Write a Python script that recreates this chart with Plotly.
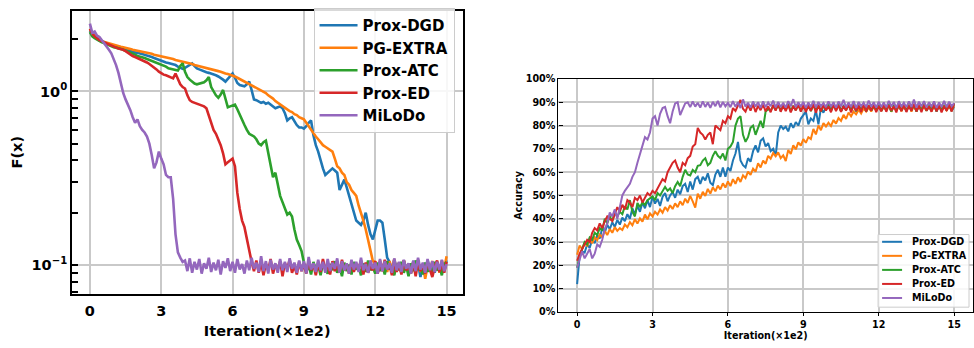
import numpy as np
import plotly.graph_objects as go

# iteration axis in units of 1e2 (one sample every 10 iterations)
iters = np.arange(0, 1501, 10) / 100.0

methods = ["Prox-DGD", "PG-EXTRA", "Prox-ATC", "Prox-ED", "MiLoDo"]
colors = ["#1f77b4", "#ff7f0e", "#2ca02c", "#d62728", "#9467bd"]

# objective value F(x)
loss_prox_dgd = [
    2.25, 2.12, 2.06, 2.01, 1.97, 1.95, 1.92, 1.90, 1.87, 1.84,
    1.82, 1.81, 1.79, 1.78, 1.76, 1.75, 1.73, 1.71, 1.70, 1.68,
    1.67, 1.66, 1.64, 1.63, 1.61, 1.60, 1.58, 1.56, 1.54, 1.52,
    1.50, 1.49, 1.47, 1.46, 1.45, 1.44, 1.42, 1.39, 1.37, 1.35,
    1.37, 1.40, 1.43, 1.45, 1.40, 1.36, 1.34, 1.32, 1.31, 1.29,
    1.28, 1.27, 1.26, 1.24, 1.22, 1.20, 1.17, 1.14, 1.18, 1.22,
    1.27, 1.20, 1.12, 1.09, 1.08, 1.07, 1.10, 1.14, 1.02, 0.90,
    0.89, 0.87, 0.86, 0.87, 0.85, 0.86, 0.84, 0.82, 0.80, 0.81,
    0.82, 0.80, 0.75, 0.68, 0.70, 0.71, 0.67, 0.64, 0.62, 0.62,
    0.61, 0.63, 0.66, 0.68, 0.56, 0.49, 0.45, 0.40, 0.36, 0.33,
    0.34, 0.35, 0.36, 0.35, 0.34, 0.27, 0.29, 0.31, 0.28, 0.25,
    0.22, 0.20, 0.18, 0.175, 0.17, 0.18, 0.20, 0.17, 0.15, 0.14,
    0.16, 0.18, 0.18, 0.175, 0.14, 0.11, 0.104, 0.092, 0.107, 0.095,
    0.103, 0.090, 0.106, 0.094, 0.101, 0.089, 0.105, 0.093, 0.102, 0.085,
    0.100, 0.091, 0.106, 0.094, 0.103, 0.090, 0.104, 0.092, 0.101, 0.096,
    0.106,
]
loss_pg_extra = [
    2.29, 2.16, 2.09, 2.03, 1.98, 1.95, 1.93, 1.91, 1.89, 1.87,
    1.85, 1.84, 1.83, 1.81, 1.80, 1.79, 1.77, 1.76, 1.74, 1.73,
    1.71, 1.70, 1.69, 1.68, 1.67, 1.66, 1.65, 1.63, 1.62, 1.61,
    1.60, 1.59, 1.58, 1.56, 1.55, 1.54, 1.52, 1.51, 1.49, 1.48,
    1.47, 1.46, 1.45, 1.44, 1.42, 1.41, 1.40, 1.38, 1.37, 1.36,
    1.35, 1.34, 1.33, 1.32, 1.31, 1.30, 1.28, 1.27, 1.26, 1.25,
    1.24, 1.22, 1.20, 1.18, 1.16, 1.14, 1.13, 1.11, 1.09, 1.07,
    1.05, 1.04, 1.02, 1.00, 0.98, 0.95, 0.93, 0.91, 0.88, 0.86,
    0.84, 0.82, 0.81, 0.79, 0.77, 0.76, 0.74, 0.73, 0.71, 0.70,
    0.69, 0.66, 0.63, 0.60, 0.57, 0.55, 0.53, 0.51, 0.49, 0.48,
    0.47, 0.46, 0.45, 0.41, 0.37, 0.36, 0.34, 0.33, 0.30, 0.29,
    0.27, 0.26, 0.25, 0.22, 0.20, 0.18, 0.16, 0.14, 0.12, 0.105,
    0.104, 0.093, 0.106, 0.095, 0.102, 0.091, 0.105, 0.094, 0.108, 0.092,
    0.103, 0.090, 0.106, 0.095, 0.101, 0.089, 0.104, 0.093, 0.107, 0.091,
    0.100, 0.083, 0.098, 0.092, 0.105, 0.094, 0.103, 0.090, 0.106, 0.095,
    0.112,
]
loss_prox_atc = [
    2.20, 2.08, 2.03, 1.99, 1.95, 1.92, 1.90, 1.87, 1.84, 1.82,
    1.80, 1.79, 1.78, 1.76, 1.74, 1.72, 1.70, 1.68, 1.66, 1.63,
    1.60, 1.59, 1.57, 1.56, 1.54, 1.52, 1.50, 1.48, 1.47, 1.45,
    1.43, 1.41, 1.39, 1.36, 1.35, 1.34, 1.33, 1.32, 1.40, 1.45,
    1.30, 1.21, 1.17, 1.14, 1.11, 1.10, 1.11, 1.12, 1.13, 1.16,
    1.21, 1.06, 1.00, 0.95, 0.92, 0.96, 1.02, 0.92, 0.81, 0.82,
    0.83, 0.84, 0.79, 0.73, 0.68, 0.64, 0.60, 0.57, 0.56, 0.55,
    0.53, 0.50, 0.49, 0.51, 0.52, 0.44, 0.36, 0.32, 0.34, 0.29,
    0.25, 0.23, 0.21, 0.195, 0.20, 0.19, 0.16, 0.14, 0.13, 0.12,
    0.103, 0.092, 0.099, 0.088, 0.104, 0.093, 0.100, 0.087, 0.102, 0.094,
    0.089, 0.101, 0.093, 0.105, 0.090, 0.098, 0.086, 0.103, 0.092, 0.100,
    0.088, 0.104, 0.094, 0.099, 0.087, 0.102, 0.091, 0.106, 0.093, 0.097,
    0.089, 0.103, 0.092, 0.100, 0.088, 0.105, 0.094, 0.098, 0.087, 0.101,
    0.093, 0.104, 0.090, 0.099, 0.086, 0.102, 0.092, 0.106, 0.094, 0.097,
    0.088, 0.103, 0.091, 0.100, 0.089, 0.104, 0.093, 0.099, 0.087, 0.101,
    0.104,
]
loss_prox_ed = [
    2.30, 2.15, 2.08, 2.02, 1.98, 1.95, 1.92, 1.89, 1.86, 1.83,
    1.81, 1.79, 1.77, 1.76, 1.74, 1.71, 1.67, 1.63, 1.60, 1.58,
    1.56, 1.54, 1.52, 1.50, 1.47, 1.44, 1.41, 1.38, 1.34, 1.30,
    1.27, 1.25, 1.24, 1.22, 1.20, 1.19, 1.27, 1.18, 1.10, 1.06,
    1.04, 0.95, 0.89, 0.87, 0.86, 0.85, 0.84, 0.83, 0.82, 0.80,
    0.72, 0.65, 0.60, 0.57, 0.53, 0.49, 0.44, 0.38, 0.39, 0.40,
    0.41, 0.37, 0.26, 0.21, 0.18, 0.165, 0.14, 0.12, 0.104, 0.092,
    0.106, 0.090, 0.103, 0.087, 0.101, 0.093, 0.108, 0.089, 0.100, 0.094,
    0.105, 0.086, 0.102, 0.095, 0.107, 0.090, 0.099, 0.088, 0.104, 0.092,
    0.101, 0.089, 0.106, 0.093, 0.100, 0.087, 0.103, 0.091, 0.108, 0.094,
    0.099, 0.088, 0.105, 0.092, 0.102, 0.090, 0.107, 0.093, 0.100, 0.089,
    0.104, 0.091, 0.101, 0.095, 0.106, 0.088, 0.103, 0.090, 0.099, 0.093,
    0.105, 0.089, 0.102, 0.092, 0.107, 0.094, 0.100, 0.087, 0.104, 0.091,
    0.101, 0.088, 0.106, 0.093, 0.099, 0.090, 0.103, 0.086, 0.105, 0.092,
    0.100, 0.089, 0.104, 0.094, 0.085, 0.097, 0.106, 0.091, 0.102, 0.090,
    0.104,
]
loss_milodo = [
    2.46, 2.18, 2.22, 2.10, 2.06, 1.98, 1.88, 1.82, 1.74, 1.66,
    1.55, 1.42, 1.28, 1.10, 0.98, 0.90, 0.84, 0.78, 0.71, 0.66,
    0.69, 0.63, 0.60, 0.58, 0.55, 0.50, 0.43, 0.36, 0.39, 0.45,
    0.41, 0.38, 0.33, 0.32, 0.32, 0.24, 0.15, 0.118, 0.110, 0.104,
    0.106, 0.092, 0.109, 0.090, 0.104, 0.094, 0.108, 0.089, 0.102, 0.095,
    0.110, 0.091, 0.103, 0.093, 0.107, 0.088, 0.105, 0.096, 0.109, 0.092,
    0.104, 0.090, 0.108, 0.094, 0.101, 0.089, 0.106, 0.093, 0.110, 0.095,
    0.103, 0.091, 0.112, 0.092, 0.105, 0.089, 0.107, 0.094, 0.102, 0.090,
    0.108, 0.093, 0.104, 0.091, 0.109, 0.095, 0.103, 0.090, 0.106, 0.092,
    0.105, 0.089, 0.111, 0.094, 0.102, 0.091, 0.107, 0.093, 0.104, 0.090,
    0.108, 0.092, 0.103, 0.095, 0.109, 0.090, 0.105, 0.093, 0.102, 0.089,
    0.107, 0.094, 0.104, 0.091, 0.110, 0.093, 0.101, 0.090, 0.106, 0.095,
    0.103, 0.089, 0.108, 0.092, 0.105, 0.094, 0.102, 0.090, 0.109, 0.093,
    0.104, 0.091, 0.107, 0.095, 0.102, 0.089, 0.106, 0.092, 0.110, 0.094,
    0.103, 0.090, 0.108, 0.093, 0.105, 0.091, 0.104, 0.094, 0.107, 0.092,
    0.101,
]

# test accuracy (%)
acc_prox_dgd = [
    12, 24, 26, 25.5, 29, 27.5, 31, 29.5, 33, 31.5,
    36, 34, 37.5, 35.5, 38.5, 36.5, 39.5, 37.5, 40.5, 39,
    42, 40, 44.5, 42, 45.5, 43, 47, 44.5, 48, 45,
    49.5, 46.5, 48.5, 45.5, 49.5, 51, 47.5, 50, 51.5, 49,
    52.5, 50.5, 54, 55, 51.5, 56, 52.5, 57, 58, 55,
    58, 56.5, 59.5, 55.5, 54.5, 59, 61, 58, 62, 58,
    62, 60.5, 65, 68, 73, 65, 63, 62, 66, 64.5,
    69, 71.5, 68.5, 73.5, 74.5, 71, 72.5, 69, 70, 67,
    77, 80, 78.5, 79.5, 77.5, 81, 79, 81.5, 80, 83,
    84.5, 86, 80.5, 83, 82, 86.5, 80.5, 87.5, 85.5, 88,
    88.6, 86.4, 88.9, 86.8, 89.2, 86.2, 88.4, 86.9, 89.0, 86.5,
    88.7, 86.1, 88.3, 87.0, 89.3, 86.6, 88.8, 86.3, 88.5, 86.9,
    89.1, 86.4, 88.2, 86.7, 88.9, 86.0, 88.6, 86.8, 89.2, 86.5,
    88.4, 86.2, 88.7, 87.0, 89.0, 86.3, 88.5, 86.6, 88.9, 86.4,
    88.3, 86.8, 89.1, 86.1, 88.6, 86.7, 88.8, 86.4, 89.2, 86.5,
    88.0,
]
acc_pg_extra = [
    24.6, 28.5, 27.0, 29.8, 28.2, 31.0, 29.5, 32.0, 30.8, 33.2,
    32.0, 34.8, 33.0, 35.6, 34.0, 36.4, 34.8, 36.0, 35.2, 37.5,
    36.4, 38.6, 37.2, 39.8, 38.0, 40.2, 38.8, 41.8, 39.8, 42.3,
    41.0, 43.0, 41.8, 44.0, 42.6, 45.0, 43.5, 45.8, 44.2, 46.6,
    45.0, 47.5, 45.8, 48.6, 46.8, 49.8, 47.5, 44.8, 50.8, 48.6,
    51.6, 49.8, 52.8, 50.8, 53.5, 51.8, 54.2, 52.6, 55.2, 53.4,
    56.0, 54.0, 57.0, 55.0, 57.8, 55.8, 58.6, 57.4, 60.2, 58.8,
    61.5, 60.2, 63.8, 62.0, 65.0, 63.6, 67.0, 65.8, 68.2, 66.8,
    68.5, 66.0, 67.2, 64.8, 69.5, 67.8, 71.5, 69.8, 72.8, 71.4,
    74.2, 72.6, 75.0, 74.2, 78.5, 76.2, 80.0, 78.0, 81.0, 79.6,
    81.2, 79.8, 82.4, 80.8, 83.2, 82.0, 84.6, 82.8, 85.6, 84.0,
    86.0, 84.8, 86.8, 85.2, 87.4, 86.0, 87.8, 86.0, 88.2, 86.4,
    88.6, 86.2, 88.0, 86.7, 89.0, 85.9, 88.4, 86.5, 88.8, 86.1,
    88.3, 86.6, 89.1, 86.0, 88.5, 86.3, 88.9, 86.7, 88.2, 86.4,
    88.7, 86.1, 88.4, 86.8, 89.0, 86.2, 88.6, 86.5, 88.1, 86.9,
    88.3,
]
acc_prox_atc = [
    19, 24, 27, 30, 29, 32, 31, 34, 33, 36,
    35, 40, 38, 41, 39, 42.7, 41, 43, 42, 45.4,
    44, 48, 43, 41, 46.8, 45, 47, 46, 48, 49,
    49.6, 48, 51, 50, 52, 53.7, 52, 53, 51, 54,
    55.8, 54, 58, 61, 59, 58.6, 61, 60, 62.7, 63,
    65, 66, 63, 64, 67, 69, 67, 66, 68, 65,
    70, 71, 73, 80, 83, 84, 76, 73, 75, 79,
    80, 76, 79, 82, 79, 86, 87, 86.5, 88.4, 86.7,
    89.0, 86.3, 88.6, 86.9, 89.3, 86.1, 88.5, 86.6, 88.9, 86.4,
    88.2, 86.8, 89.1, 86.2, 88.7, 86.5, 89.0, 86.0, 88.4, 86.7,
    88.9, 86.3, 88.6, 86.9, 89.2, 86.1, 88.3, 86.6, 88.8, 86.4,
    89.0, 86.2, 88.5, 86.8, 89.3, 86.0, 88.7, 86.5, 88.2, 86.9,
    88.9, 86.3, 88.4, 86.6, 89.1, 86.1, 88.6, 86.8, 88.3, 86.4,
    89.0, 86.2, 88.7, 86.5, 88.9, 86.0, 88.4, 86.7, 89.2, 86.3,
    88.5, 86.6, 88.8, 86.1, 89.0, 86.4, 88.3, 86.8, 88.9, 86.2,
    89.5,
]
acc_prox_ed = [
    22, 25, 27, 29, 31, 30, 34, 36, 35, 38,
    36, 39, 41, 40, 39, 42, 45, 43, 46, 44,
    48, 47, 45, 49, 48, 50, 47, 49, 51, 50,
    52, 51, 53, 55, 57, 56, 60, 62, 64, 65,
    62, 60, 64, 63, 66, 67, 71, 72, 79, 77,
    76, 74, 76, 77, 72, 80, 79, 78, 82, 81,
    84, 83, 87.5, 86.3, 88.6, 91.0, 87.2, 86.0, 88.9, 86.4,
    89.2, 85.8, 88.5, 86.6, 89.0, 86.1, 88.3, 85.7, 88.8, 86.4,
    89.3, 85.9, 88.6, 86.2, 88.9, 85.6, 88.4, 86.5, 89.1, 86.0,
    88.7, 85.8, 88.5, 86.3, 89.2, 85.5, 88.6, 86.1, 88.9, 86.4,
    88.3, 85.7, 89.0, 86.2, 88.7, 85.9, 88.4, 86.5, 89.1, 85.6,
    88.8, 86.3, 88.5, 85.8, 89.2, 86.0, 88.6, 86.4, 88.9, 85.7,
    88.4, 86.1, 89.0, 85.9, 88.7, 86.5, 88.3, 85.6, 89.1, 86.2,
    88.8, 85.8, 88.5, 86.3, 89.3, 86.0, 88.6, 85.7, 88.9, 86.4,
    88.2, 85.9, 89.0, 86.1, 88.7, 85.6, 88.4, 86.3, 89.1, 86.0,
    89.5,
]
acc_milodo = [
    19, 23, 26, 23, 25, 27, 23, 25, 29, 28,
    31, 35.7, 38, 42.7, 41, 44, 40, 45.4, 50, 52,
    53.7, 55, 58, 60, 64, 68, 71, 75, 74, 77,
    83, 84, 80, 85, 87.5, 88, 84, 81, 86, 89.5,
    90, 84.5, 87, 89.5, 90.0, 87.9, 90.3, 88.1, 89.8, 87.7,
    90.4, 88.0, 89.9, 87.6, 90.2, 88.3, 90.6, 87.8, 90.1, 88.2,
    89.7, 87.9, 90.5, 88.0, 90.0, 87.5, 91.2, 88.1, 89.8, 87.7,
    90.3, 88.2, 90.0, 87.6, 90.4, 87.9, 89.9, 88.3, 90.7, 87.8,
    90.1, 88.0, 89.8, 87.7, 90.5, 88.2, 91.3, 87.9, 90.0, 88.1,
    90.2, 87.6, 89.9, 88.0, 90.6, 87.8, 90.1, 88.3, 89.7, 87.9,
    90.4, 88.1, 90.0, 87.7, 90.3, 88.2, 91.0, 87.8, 89.9, 88.0,
    90.5, 87.6, 90.1, 88.3, 89.8, 87.9, 90.7, 88.1, 90.0, 87.7,
    90.2, 88.0, 89.9, 87.8, 90.6, 88.2, 90.1, 87.6, 90.4, 88.1,
    89.8, 87.9, 90.3, 88.0, 91.1, 87.7, 90.2, 88.2, 90.5, 87.8,
    90.0, 88.1, 90.4, 87.6, 89.9, 88.0, 90.6, 87.9, 90.2, 88.3,
    89.6,
]

loss_series = [loss_prox_dgd, loss_pg_extra, loss_prox_atc, loss_prox_ed, loss_milodo]
acc_series = [acc_prox_dgd, acc_pg_extra, acc_prox_atc, acc_prox_ed, acc_milodo]

x_ticks = [0, 3, 6, 9, 12, 15]
acc_ticks = list(range(0, 101, 10))

FONT = "DejaVu Sans"
GRID = "#c9c9c9"
W, H = 974, 348


def px(xp):
    return xp / W


def py(yp):
    return 1 - yp / H


fig = go.Figure()

for name, color, ys in zip(methods, colors, loss_series):
    fig.add_trace(go.Scatter(
        x=iters, y=ys, name=name, mode="lines",
        line=dict(color=color, width=2.6),
        xaxis="x", yaxis="y", legend="legend",
    ))

for name, color, ys in zip(methods, colors, acc_series):
    fig.add_trace(go.Scatter(
        x=iters, y=ys, name=name, mode="lines",
        line=dict(color=color, width=2.0),
        xaxis="x2", yaxis="y2", showlegend=False,
    ))

# compact legend box for the accuracy panel
legend_rows = [243.5, 258, 272.5, 287, 301.5]
shapes = [dict(
    type="rect", xref="paper", yref="paper",
    x0=px(879), x1=px(970), y0=py(311), y1=py(236),
    fillcolor="rgba(255,255,255,0.85)", line=dict(color="#cccccc", width=1),
    layer="above",
)]
annotations = []
for name, color, row in zip(methods, colors, legend_rows):
    shapes.append(dict(
        type="line", xref="paper", yref="paper",
        x0=px(883), x1=px(903), y0=py(row), y1=py(row),
        line=dict(color=color, width=2), layer="above",
    ))
    annotations.append(dict(
        xref="paper", yref="paper", x=px(911), y=py(row),
        xanchor="left", yanchor="middle", showarrow=False,
        text=f"<b>{name}</b>", font=dict(family=FONT, size=9.6, color="black"),
    ))

fig.update_layout(
    width=W, height=H,
    margin=dict(l=0, r=0, t=0, b=0),
    paper_bgcolor="white", plot_bgcolor="white",
    font=dict(family=FONT, color="black"),
    shapes=shapes, annotations=annotations,
    xaxis=dict(
        domain=[px(72), px(463)], anchor="y",
        range=[-0.756, 15.67],
        tickvals=x_ticks, ticktext=[str(v) for v in x_ticks],
        ticks="outside", ticklen=3, tickcolor="rgba(0,0,0,0)",
        tickfont=dict(family=FONT, size=14.5, color="black", weight="bold"),
        showgrid=True, gridcolor=GRID, gridwidth=1.6,
        showline=True, linecolor="black", linewidth=1.6, mirror=True,
        zeroline=False,
        title=dict(text="<b>Iteration(×1e2)</b>", font=dict(family=FONT, size=14.5), standoff=8),
    ),
    yaxis=dict(
        domain=[py(297), py(5)], anchor="x",
        type="log", range=[-1.166, 0.465],
        tickvals=[0.1, 1], ticktext=["10<sup>−1</sup>", "10<sup>0</sup>"],
        ticks="inside", ticklen=6, tickwidth=1.5, tickcolor="black",
        tickfont=dict(family=FONT, size=14.5, color="black", weight="bold"),
        minor=dict(
            tickvals=[0.07, 0.08, 0.09, 0.2, 0.3, 0.4, 0.5, 0.6, 0.7, 0.8, 0.9, 2],
            ticks="inside", ticklen=6, tickwidth=1.5, tickcolor="black", showgrid=False,
        ),
        showgrid=True, gridcolor=GRID, gridwidth=1.6,
        showline=True, linecolor="black", linewidth=1.6, mirror=True,
        zeroline=False,
        title=dict(text="<b>F(x)</b>", font=dict(family=FONT, size=14.5), standoff=5),
    ),
    xaxis2=dict(
        domain=[px(559), 1.0], anchor="y2",
        range=[-0.743, 15.75],
        tickvals=x_ticks, ticktext=[str(v) for v in x_ticks],
        ticks="outside", ticklen=3, tickwidth=1, tickcolor="black",
        tickfont=dict(family=FONT, size=9.6, color="black", weight="bold"),
        showgrid=True, gridcolor=GRID, gridwidth=1.5,
        showline=True, linecolor="black", linewidth=1.3, mirror=True,
        zeroline=False,
        title=dict(text="<b>Iteration(×1e2)</b>", font=dict(family=FONT, size=9.6), standoff=2),
    ),
    yaxis2=dict(
        domain=[py(316), py(75.3)], anchor="x2",
        range=[0, 100],
        tickvals=acc_ticks, ticktext=[f"{v}%" for v in acc_ticks],
        ticks="inside", ticklen=4, tickwidth=1.2, tickcolor="black",
        tickfont=dict(family=FONT, size=9.6, color="black", weight="bold"),
        showgrid=True, gridcolor=GRID, gridwidth=1.5,
        showline=True, linecolor="black", linewidth=1.3, mirror=True,
        zeroline=False,
        title=dict(text="<b>Accuracy</b>", font=dict(family=FONT, size=9.6), standoff=1),
    ),
    legend=dict(
        x=px(455), xanchor="right", y=py(2), yanchor="top",
        bgcolor="rgba(255,255,255,0.85)", bordercolor="#cccccc", borderwidth=1,
        font=dict(family=FONT, size=15, color="black", weight="bold"),
        itemwidth=38, tracegroupgap=0,
    ),
    showlegend=True,
)

fig.write_html("out.html")
